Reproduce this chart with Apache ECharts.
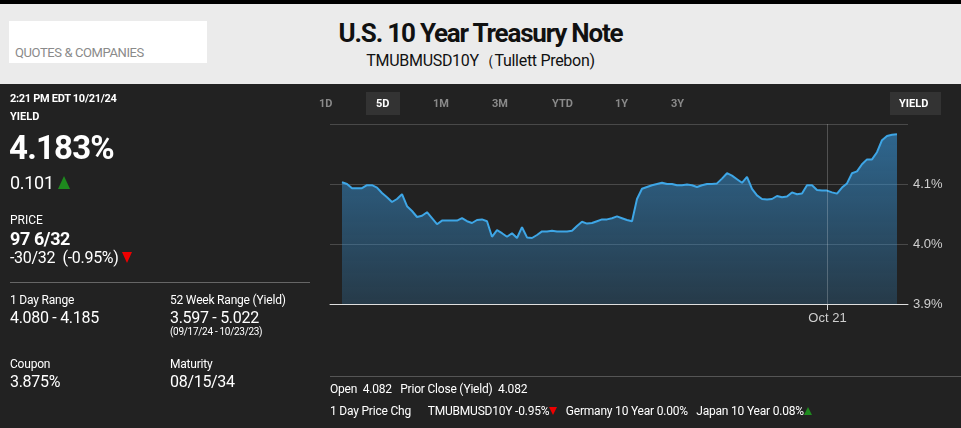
<!DOCTYPE html>
<html>
<head>
<meta charset="utf-8">
<script src="https://cdn.jsdelivr.net/npm/echarts@6/dist/echarts.min.js"></script>
<style>
  html, body { margin: 0; padding: 0; }
  body { width: 961px; height: 428px; background: #222; position: relative; overflow: hidden;
         font-family: "Roboto", "Noto Sans", sans-serif; color: #fff; }
  #chart { position: absolute; left: 0; top: 0; width: 961px; height: 428px; }
  .abs { position: absolute; white-space: nowrap; line-height: 1; }
  #topbar { position: absolute; left: 0; top: 0; width: 961px; height: 4px; background: #000; }
  #header { position: absolute; left: 0; top: 4px; width: 961px; height: 80px; background: #ebebeb; }
  #search { position: absolute; left: 9px; top: 17px; width: 198px; height: 42px; background: #fff; }
  .lbl { font-size: 12px; color: #fff; letter-spacing: -0.2px; }
  .val { font-size: 16px; color: #fff; letter-spacing: -0.3px; }
  .tab { font-size: 11px; font-weight: bold; color: #8a8a8a; }
  .tri-up, .tri-down { display: inline-block; width: 0; height: 0; vertical-align: baseline; }
  .tri-up { border-left: 6px solid transparent; border-right: 6px solid transparent; border-bottom: 13px solid #1e8a1e; }
  .tri-down { border-left: 5px solid transparent; border-right: 5px solid transparent; border-top: 11px solid #e00; }
  .tri-up.sm { border-left-width: 4px; border-right-width: 4px; border-bottom-width: 8px; }
  .tri-down.sm { border-left-width: 4px; border-right-width: 4px; border-top-width: 8px; }
</style>
</head>
<body>
<div id="chart"></div>
<div id="topbar"></div>
<div id="header">
  <div id="search"><div class="abs" style="left:6px;top:25px;font-size:13px;color:#8a8a8a;letter-spacing:-0.4px;">QUOTES &amp; COMPANIES</div></div>
  <div class="abs" style="left:0;width:961px;text-align:center;top:16px;font-size:26px;font-weight:bold;color:#111;letter-spacing:-1.2px;">U.S. 10 Year Treasury Note</div>
  <div class="abs" style="left:0;width:961px;text-align:center;top:49px;font-size:16px;color:#111;letter-spacing:-0.3px;">TMUBMUSD10Y（Tullett Prebon)</div>
</div>

<div class="abs" style="left:10px;top:93px;font-size:11px;font-weight:bold;letter-spacing:-0.3px;">2:21 PM EDT 10/21/24</div>
<div class="abs" style="left:10px;top:111px;font-size:11px;font-weight:bold;">YIELD</div>
<div class="abs" style="left:9px;top:131px;font-size:33px;font-weight:bold;letter-spacing:-0.8px;">4.183%</div>
<div class="abs" style="left:10px;top:174px;font-size:18px;letter-spacing:-0.3px;">0.101 <span class="tri-up"></span></div>
<div class="abs" style="left:10px;top:214px;font-size:12px;">PRICE</div>
<div class="abs" style="left:10px;top:230px;font-size:18px;font-weight:bold;letter-spacing:-0.4px;">97 6/32</div>
<div class="abs" style="left:10px;top:250px;font-size:16px;letter-spacing:-0.3px;">-30/32&nbsp; (-0.95%) <span class="tri-down"></span></div>
<div class="abs" style="left:10px;top:282px;width:300px;height:1px;background:#666;"></div>
<div class="abs lbl" style="left:10px;top:294px;">1 Day Range</div>
<div class="abs val" style="left:10px;top:310px;">4.080 - 4.185</div>
<div class="abs lbl" style="left:170px;top:294px;">52 Week Range (Yield)</div>
<div class="abs val" style="left:170px;top:310px;">3.597 - 5.022</div>
<div class="abs" style="left:170px;top:327px;font-size:10px;letter-spacing:-0.3px;">(09/17/24 - 10/23/23)</div>
<div class="abs lbl" style="left:10px;top:358px;">Coupon</div>
<div class="abs val" style="left:10px;top:374px;">3.875%</div>
<div class="abs lbl" style="left:170px;top:358px;">Maturity</div>
<div class="abs val" style="left:170px;top:374px;">08/15/34</div>

<div class="abs tab" style="left:319px;top:98px;">1D</div>
<div class="abs" style="left:366px;top:92px;width:34px;height:23px;background:#333;"></div>
<div class="abs tab" style="left:376px;top:98px;color:#fff;">5D</div>
<div class="abs tab" style="left:433px;top:98px;">1M</div>
<div class="abs tab" style="left:492px;top:98px;">3M</div>
<div class="abs tab" style="left:552px;top:98px;">YTD</div>
<div class="abs tab" style="left:615px;top:98px;">1Y</div>
<div class="abs tab" style="left:671px;top:98px;">3Y</div>
<div class="abs" style="left:890px;top:92px;width:51px;height:23px;background:#333;"></div>
<div class="abs tab" style="left:899px;top:98px;color:#fff;">YIELD</div>

<div class="abs" style="left:330px;top:376px;width:631px;height:1px;background:#555;"></div>
<div class="abs" style="left:330px;top:383px;font-size:12px;letter-spacing:-0.2px;">Open&nbsp;&nbsp;4.082&nbsp;&nbsp;&nbsp;Prior Close (Yield)&nbsp;&nbsp;4.082</div>
<div class="abs" style="left:330px;top:405px;font-size:12px;letter-spacing:-0.2px;">1 Day Price Chg&nbsp;&nbsp;&nbsp;&nbsp;&nbsp;&nbsp;TMUBMUSD10Y -0.95%<span class="tri-down sm"></span>&nbsp;&nbsp;&nbsp;Germany 10 Year 0.00%&nbsp;&nbsp;&nbsp;Japan 10 Year 0.08%<span class="tri-up sm"></span></div>

<script>
// 5D yield samples, evenly spaced (%)
var yields = [
  4.103, 4.100, 4.093, 4.093, 4.093, 4.098, 4.098, 4.094, 4.085, 4.078,
  4.070, 4.075, 4.083, 4.063, 4.055, 4.045, 4.047, 4.053, 4.043, 4.033,
  4.039, 4.039, 4.039, 4.039, 4.043, 4.038, 4.035, 4.040, 4.041, 4.038,
  4.012, 4.023, 4.018, 4.012, 4.018, 4.010, 4.028, 4.011, 4.010, 4.015,
  4.021, 4.021, 4.022, 4.021, 4.021, 4.021, 4.022, 4.030, 4.037, 4.034,
  4.035, 4.038, 4.041, 4.041, 4.043, 4.046, 4.043, 4.040, 4.038, 4.075,
  4.092, 4.095, 4.098, 4.100, 4.102, 4.100, 4.100, 4.098, 4.098, 4.099,
  4.098, 4.095, 4.098, 4.100, 4.100, 4.101, 4.109, 4.118, 4.114, 4.108,
  4.102, 4.112, 4.092, 4.081, 4.075, 4.074, 4.075, 4.080, 4.078, 4.079,
  4.086, 4.083, 4.084, 4.098, 4.098, 4.090, 4.089, 4.089, 4.086, 4.084,
  4.094, 4.101, 4.118, 4.121, 4.133, 4.141, 4.141, 4.153, 4.173, 4.180,
  4.182, 4.183
];
var dayLabel = 'Oct 21';
var dayStart = 97.1;   // sample position where Oct 21 begins
var yTicks = [3.9, 4.0, 4.1, 4.2];

var points = yields.map(function (v, i) { return [i, v]; });

var myChart = echarts.init(document.getElementById('chart'));
var option = {
  animation: false,
  grid: { left: 330, right: 53, top: 124, bottom: 124 },
  xAxis: {
    type: 'value',
    min: -2.4,
    max: yields.length - 1 + 2.2,
    axisLine: { lineStyle: { color: '#d8d8d8', width: 1 } },
    axisTick: { customValues: [dayStart], length: 6, lineStyle: { color: '#d8d8d8' } },
    axisLabel: {
      customValues: [dayStart],
      formatter: function () { return dayLabel; },
      color: '#cfcfcf', fontSize: 13, margin: 8
    },
    splitLine: { show: false }
  },
  yAxis: {
    type: 'value',
    position: 'right',
    min: yTicks[0],
    max: yTicks[yTicks.length - 1],
    interval: 0.1,
    z: 3,
    axisLine: { show: false },
    axisTick: { show: false },
    axisLabel: {
      margin: 5, color: '#cfcfcf', fontSize: 13,
      formatter: function (v) { return v >= 4.15 ? '' : v.toFixed(1) + '%'; }
    },
    splitLine: { lineStyle: { color: 'rgba(255,255,255,0.18)', width: 1 } }
  },
  series: [{
    type: 'line',
    data: points,
    showSymbol: false,
    lineStyle: { color: '#3ea6e6', width: 2 },
    areaStyle: {
      color: {
        type: 'linear', x: 0, y: 0, x2: 0, y2: 1,
        colorStops: [
          { offset: 0, color: 'rgba(55,145,210,0.88)' },
          { offset: 1, color: 'rgba(55,145,210,0.32)' }
        ]
      }
    },
    markLine: {
      silent: true,
      symbol: 'none',
      label: { show: false },
      lineStyle: { color: 'rgba(255,255,255,0.22)', type: 'solid', width: 1 },
      data: [{ xAxis: dayStart }]
    }
  }]
};
myChart.setOption(option);
</script>
</body>
</html>
